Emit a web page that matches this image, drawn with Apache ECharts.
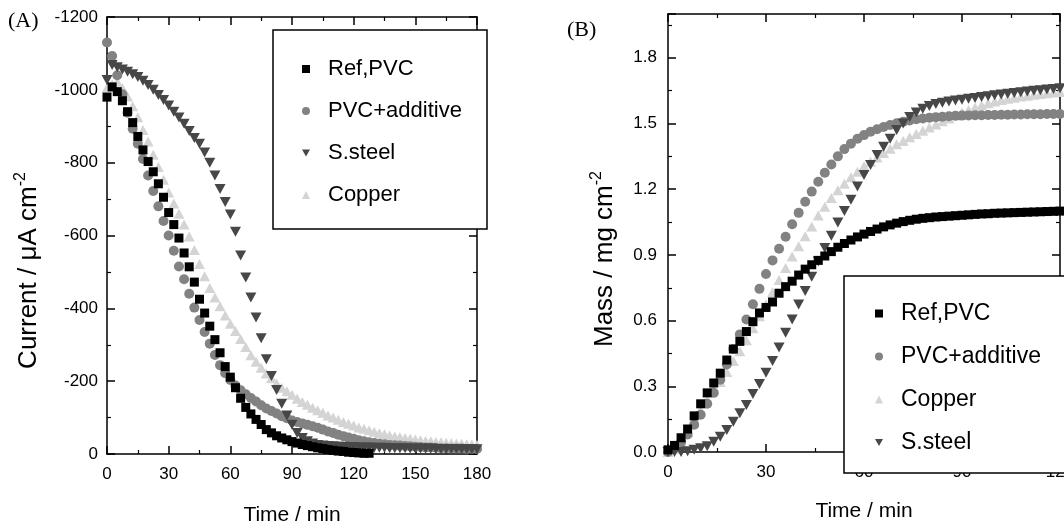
<!DOCTYPE html>
<html><head><meta charset="utf-8">
<script src="https://cdn.jsdelivr.net/npm/echarts@6/dist/echarts.min.js"></script>
<style>html,body{margin:0;padding:0;background:#fff}#c{width:1064px;height:524px}</style>
</head><body><div id="c"></div>
<script>
// ---------- Panel A: current vs time ----------
const timeA = [0,2.5,5,7.5,10,12.5,15,17.5,20,22.5,25,27.5,30,32.5,35,37.5,40,42.5,45,47.5,50,52.5,55,57.5,60,62.5,65,67.5,70,72.5,75,77.5,80,82.5,85,87.5,90,92.5,95,97.5,100,102.5,105,107.5,110,112.5,115,117.5,120,122.5,125,127.5,130,132.5,135,137.5,140,142.5,145,147.5,150,152.5,155,157.5,160,162.5,165,167.5,170,172.5,175,177.5,180];
const refA = [-980,-1008,-995,-970,-940,-910,-872,-835,-803,-775,-742,-705,-663,-630,-593,-552,-514,-472,-425,-387,-351,-314,-278,-240,-211,-182,-153,-128,-110,-95,-81,-67,-58,-50,-44,-39,-34,-30,-26,-23,-20,-17,-15,-12,-10,-8,-7,-5,-4,-3,-2,-2];
const pvcAddA = [-1130,-1093,-1040,-988,-937,-893,-852,-810,-765,-722,-680,-640,-600,-558,-515,-480,-440,-402,-368,-335,-303,-272,-244,-222,-203,-188,-175,-164,-154,-144,-134,-125,-118,-111,-104,-98,-92,-88,-84,-80,-76,-72,-67,-62,-58,-53,-49,-45,-42,-38,-35,-32,-30,-28,-27,-25,-24,-23,-22,-21,-20,-19,-18,-18,-17,-16,-16,-15,-15,-15,-14,-14,-14];
const steelA = [-1027,-1068,-1062,-1056,-1050,-1043,-1035,-1025,-1013,-1000,-986,-972,-957,-940,-924,-907,-887,-868,-852,-828,-800,-765,-728,-692,-658,-610,-545,-485,-430,-375,-318,-260,-214,-176,-138,-106,-80,-58,-44,-35,-29,-25,-23,-22,-21,-20,-20,-19,-19,-18,-18,-18,-17,-17,-17,-16,-16,-16,-16,-15,-15,-15,-15,-15,-14,-14,-14,-14,-14,-13,-13,-13,-13];
const copperA = [-1005,-1015,-1022,-1005,-982,-955,-925,-890,-858,-822,-788,-753,-718,-688,-660,-630,-597,-560,-522,-488,-456,-430,-406,-380,-358,-338,-316,-294,-271,-253,-237,-221,-208,-194,-182,-172,-163,-152,-143,-135,-127,-120,-113,-106,-100,-94,-88,-83,-78,-73,-69,-65,-61,-57,-54,-51,-48,-46,-44,-42,-40,-38,-36,-35,-33,-32,-31,-30,-29,-28,-27,-26,-25];

// ---------- Panel B: mass vs time ----------
const timeB = [0,2,4,6,8,10,12,14,16,18,20,22,24,26,28,30,32,34,36,38,40,42,44,46,48,50,52,54,56,58,60,62,64,66,68,70,72,74,76,78,80,82,84,86,88,90,92,94,96,98,100,102,104,106,108,110,112,114,116,118,120];
const refB = [0.01,0.03,0.065,0.105,0.165,0.22,0.27,0.315,0.36,0.42,0.47,0.505,0.55,0.595,0.635,0.66,0.685,0.725,0.755,0.78,0.808,0.835,0.855,0.875,0.895,0.915,0.935,0.952,0.968,0.982,0.995,1.007,1.018,1.028,1.037,1.045,1.052,1.058,1.063,1.067,1.07,1.073,1.075,1.077,1.079,1.081,1.083,1.085,1.087,1.088,1.09,1.091,1.092,1.093,1.094,1.095,1.096,1.097,1.098,1.099,1.1];
const pvcAddB = [0.0,0.02,0.045,0.08,0.125,0.17,0.22,0.27,0.33,0.4,0.47,0.537,0.605,0.675,0.745,0.813,0.875,0.928,0.983,1.04,1.092,1.143,1.189,1.234,1.275,1.313,1.35,1.383,1.408,1.43,1.447,1.462,1.474,1.484,1.493,1.501,1.508,1.514,1.519,1.523,1.526,1.529,1.531,1.533,1.535,1.536,1.537,1.538,1.538,1.539,1.539,1.54,1.54,1.541,1.541,1.542,1.542,1.542,1.543,1.543,1.543];
const copperB = [0.0,0.015,0.045,0.09,0.135,0.19,0.24,0.285,0.32,0.365,0.415,0.46,0.51,0.565,0.62,0.675,0.73,0.785,0.84,0.893,0.94,0.985,1.03,1.08,1.12,1.16,1.195,1.225,1.255,1.28,1.305,1.325,1.345,1.365,1.385,1.405,1.42,1.437,1.452,1.467,1.482,1.496,1.51,1.523,1.537,1.55,1.562,1.573,1.583,1.592,1.6,1.607,1.613,1.618,1.623,1.627,1.631,1.635,1.638,1.641,1.644];
const steelB = [0.0,0.0,0.0,0.003,0.01,0.017,0.026,0.047,0.07,0.1,0.138,0.177,0.215,0.265,0.31,0.362,0.415,0.477,0.545,0.605,0.673,0.735,0.8,0.87,0.932,0.988,1.048,1.1,1.152,1.212,1.265,1.31,1.356,1.394,1.43,1.47,1.5,1.53,1.55,1.567,1.58,1.589,1.595,1.6,1.605,1.609,1.613,1.617,1.621,1.625,1.629,1.632,1.636,1.639,1.643,1.646,1.649,1.652,1.655,1.658,1.661];

const legendA = ['Ref,PVC','PVC+additive','S.steel','Copper'];
const legendB = ['Ref,PVC','PVC+additive','Copper','S.steel'];
const xTicksA = {min:0, max:180, interval:30};
const yTicksA = {min:-1200, max:0, interval:200};
const xTicksB = {min:0, max:120, interval:30};
const yTicksB = {min:0, max:2.0, interval:0.3};

const FONT = '"Liberation Sans", Arial, sans-serif';
const SERIF = '"Liberation Serif", "Times New Roman", serif';
const pairs = (t, v) => v.map((y, i) => [t[i], y]);

const styles = {
  'Ref,PVC':      {color:'#000000', symbol:'rect', size:9},
  'PVC+additive': {color:'#828282', symbol:'circle', size:10},
  'S.steel':      {color:'#474747', symbol:'path://M0,0 L10,0 L5,9 Z', size:[11,10]},
  'Copper':       {color:'#d4d4d4', symbol:'triangle', size:[11,10]}
};

function axis(grid, ticks, pos, showLabel, extra) {
  return Object.assign({
    type:'value', gridIndex:grid, position:pos,
    min:ticks.min, max:ticks.max, interval:ticks.interval,
    axisLine:{show:true, onZero:false, lineStyle:{color:'#000', width:1.5}},
    axisTick:{show:true, inside:true, length:8, lineStyle:{color:'#000', width:1.5}},
    minorTick:{show:true, splitNumber:2, length:4, lineStyle:{color:'#000', width:1.2}},
    splitLine:{show:false}, minorSplitLine:{show:false},
    axisLabel:{show:showLabel, color:'#000', fontSize:17, fontFamily:FONT}
  }, extra || {});
}

function scatter(name, t, v, xi, yi) {
  const s = styles[name];
  return {
    type:'scatter', name:name, xAxisIndex:xi, yAxisIndex:yi,
    data:pairs(t, v), symbol:s.symbol, symbolSize:s.size,
    itemStyle:{color:s.color, opacity:1}, silent:true
  };
}

const nameStyle = {fontSize:21, color:'#000', fontFamily:FONT};
const supRich = {s:{fontSize:16, verticalAlign:'top', lineHeight:16, color:'#000', fontFamily:FONT}};
const yNameStyleA = {fontSize:26, color:'#000', fontFamily:FONT, lineHeight:32, padding:[0,70,0,0], rich:supRich};
const yNameStyleB = {fontSize:26, color:'#000', fontFamily:FONT, lineHeight:32, padding:[0,52,0,0], rich:supRich};

const option = {
  animation:false,
  backgroundColor:'#fff',
  grid:[
    {left:107, top:17, width:370, height:437, outerBoundsMode:'none', containLabel:false},
    {left:668, top:14, width:392, height:438, outerBoundsMode:'none', containLabel:false}
  ],
  xAxis:[
    axis(0, xTicksA, 'bottom', true, {name:'Time / min', nameLocation:'middle', nameGap:51, nameTextStyle:nameStyle,
      axisLabel:{show:true, color:'#000', fontSize:17, fontFamily:FONT, margin:12}}),
    axis(0, xTicksA, 'top', false),
    axis(1, xTicksB, 'bottom', true, {name:'Time / min', nameLocation:'middle', nameGap:49, nameTextStyle:nameStyle,
      axisLabel:{show:true, color:'#000', fontSize:17, fontFamily:FONT, margin:12}}),
    axis(1, xTicksB, 'top', false)
  ],
  yAxis:[
    axis(0, yTicksA, 'left', true, {inverse:true, name:'Current / μA cm{s|-2}', nameLocation:'middle', nameRotate:90, nameGap:62,
      nameTextStyle:yNameStyleA,
      axisLabel:{show:true, color:'#000', fontSize:17, fontFamily:FONT, margin:9, formatter:v => String(v)}}),
    axis(0, yTicksA, 'right', false, {inverse:true}),
    axis(1, yTicksB, 'left', true, {name:'Mass / mg cm{s|-2}', nameLocation:'middle', nameRotate:90, nameGap:47,
      nameTextStyle:yNameStyleB,
      axisLabel:{show:true, color:'#000', fontSize:17, fontFamily:FONT, margin:11, showMaxLabel:false, formatter:v => v.toFixed(1)}}),
    axis(1, yTicksB, 'right', false)
  ],
  legend:[
    {orient:'vertical', left:297, top:52, itemWidth:8, itemHeight:8, itemGap:18, z:20, selectedMode:false,
     data:legendA, textStyle:{fontSize:22, color:'#000', fontFamily:FONT, lineHeight:24, padding:[0,0,0,13]}},
    {orient:'vertical', left:870, top:296.5, itemWidth:8, itemHeight:8, itemGap:19, z:20, selectedMode:false,
     data:legendB, textStyle:{fontSize:23, color:'#000', fontFamily:FONT, lineHeight:24, padding:[0,0,0,13]}}
  ],
  graphic:[
    {type:'rect', z:10, shape:{x:273, y:30, width:214, height:199}, style:{fill:'#fff', stroke:'#000', lineWidth:1.5}},
    {type:'rect', z:10, shape:{x:844, y:276, width:230, height:197}, style:{fill:'#fff', stroke:'#000', lineWidth:1.5}},
    {type:'text', z:10, left:8, top:10, style:{text:'(A)', font:'22px ' + SERIF, fill:'#000'}},
    {type:'text', z:10, left:567, top:19, style:{text:'(B)', font:'22px ' + SERIF, fill:'#000'}}
  ],
  series:[
    scatter('Copper', timeA, copperA, 0, 0),
    scatter('PVC+additive', timeA, pvcAddA, 0, 0),
    scatter('S.steel', timeA, steelA, 0, 0),
    scatter('Ref,PVC', timeA.slice(0, refA.length), refA, 0, 0),
    scatter('Copper', timeB, copperB, 2, 2),
    scatter('PVC+additive', timeB, pvcAddB, 2, 2),
    scatter('S.steel', timeB, steelB, 2, 2),
    scatter('Ref,PVC', timeB, refB, 2, 2)
  ]
};
const chart = echarts.init(document.getElementById('c'), null, {renderer:'canvas'});
chart.setOption(option);
</script></body></html>
